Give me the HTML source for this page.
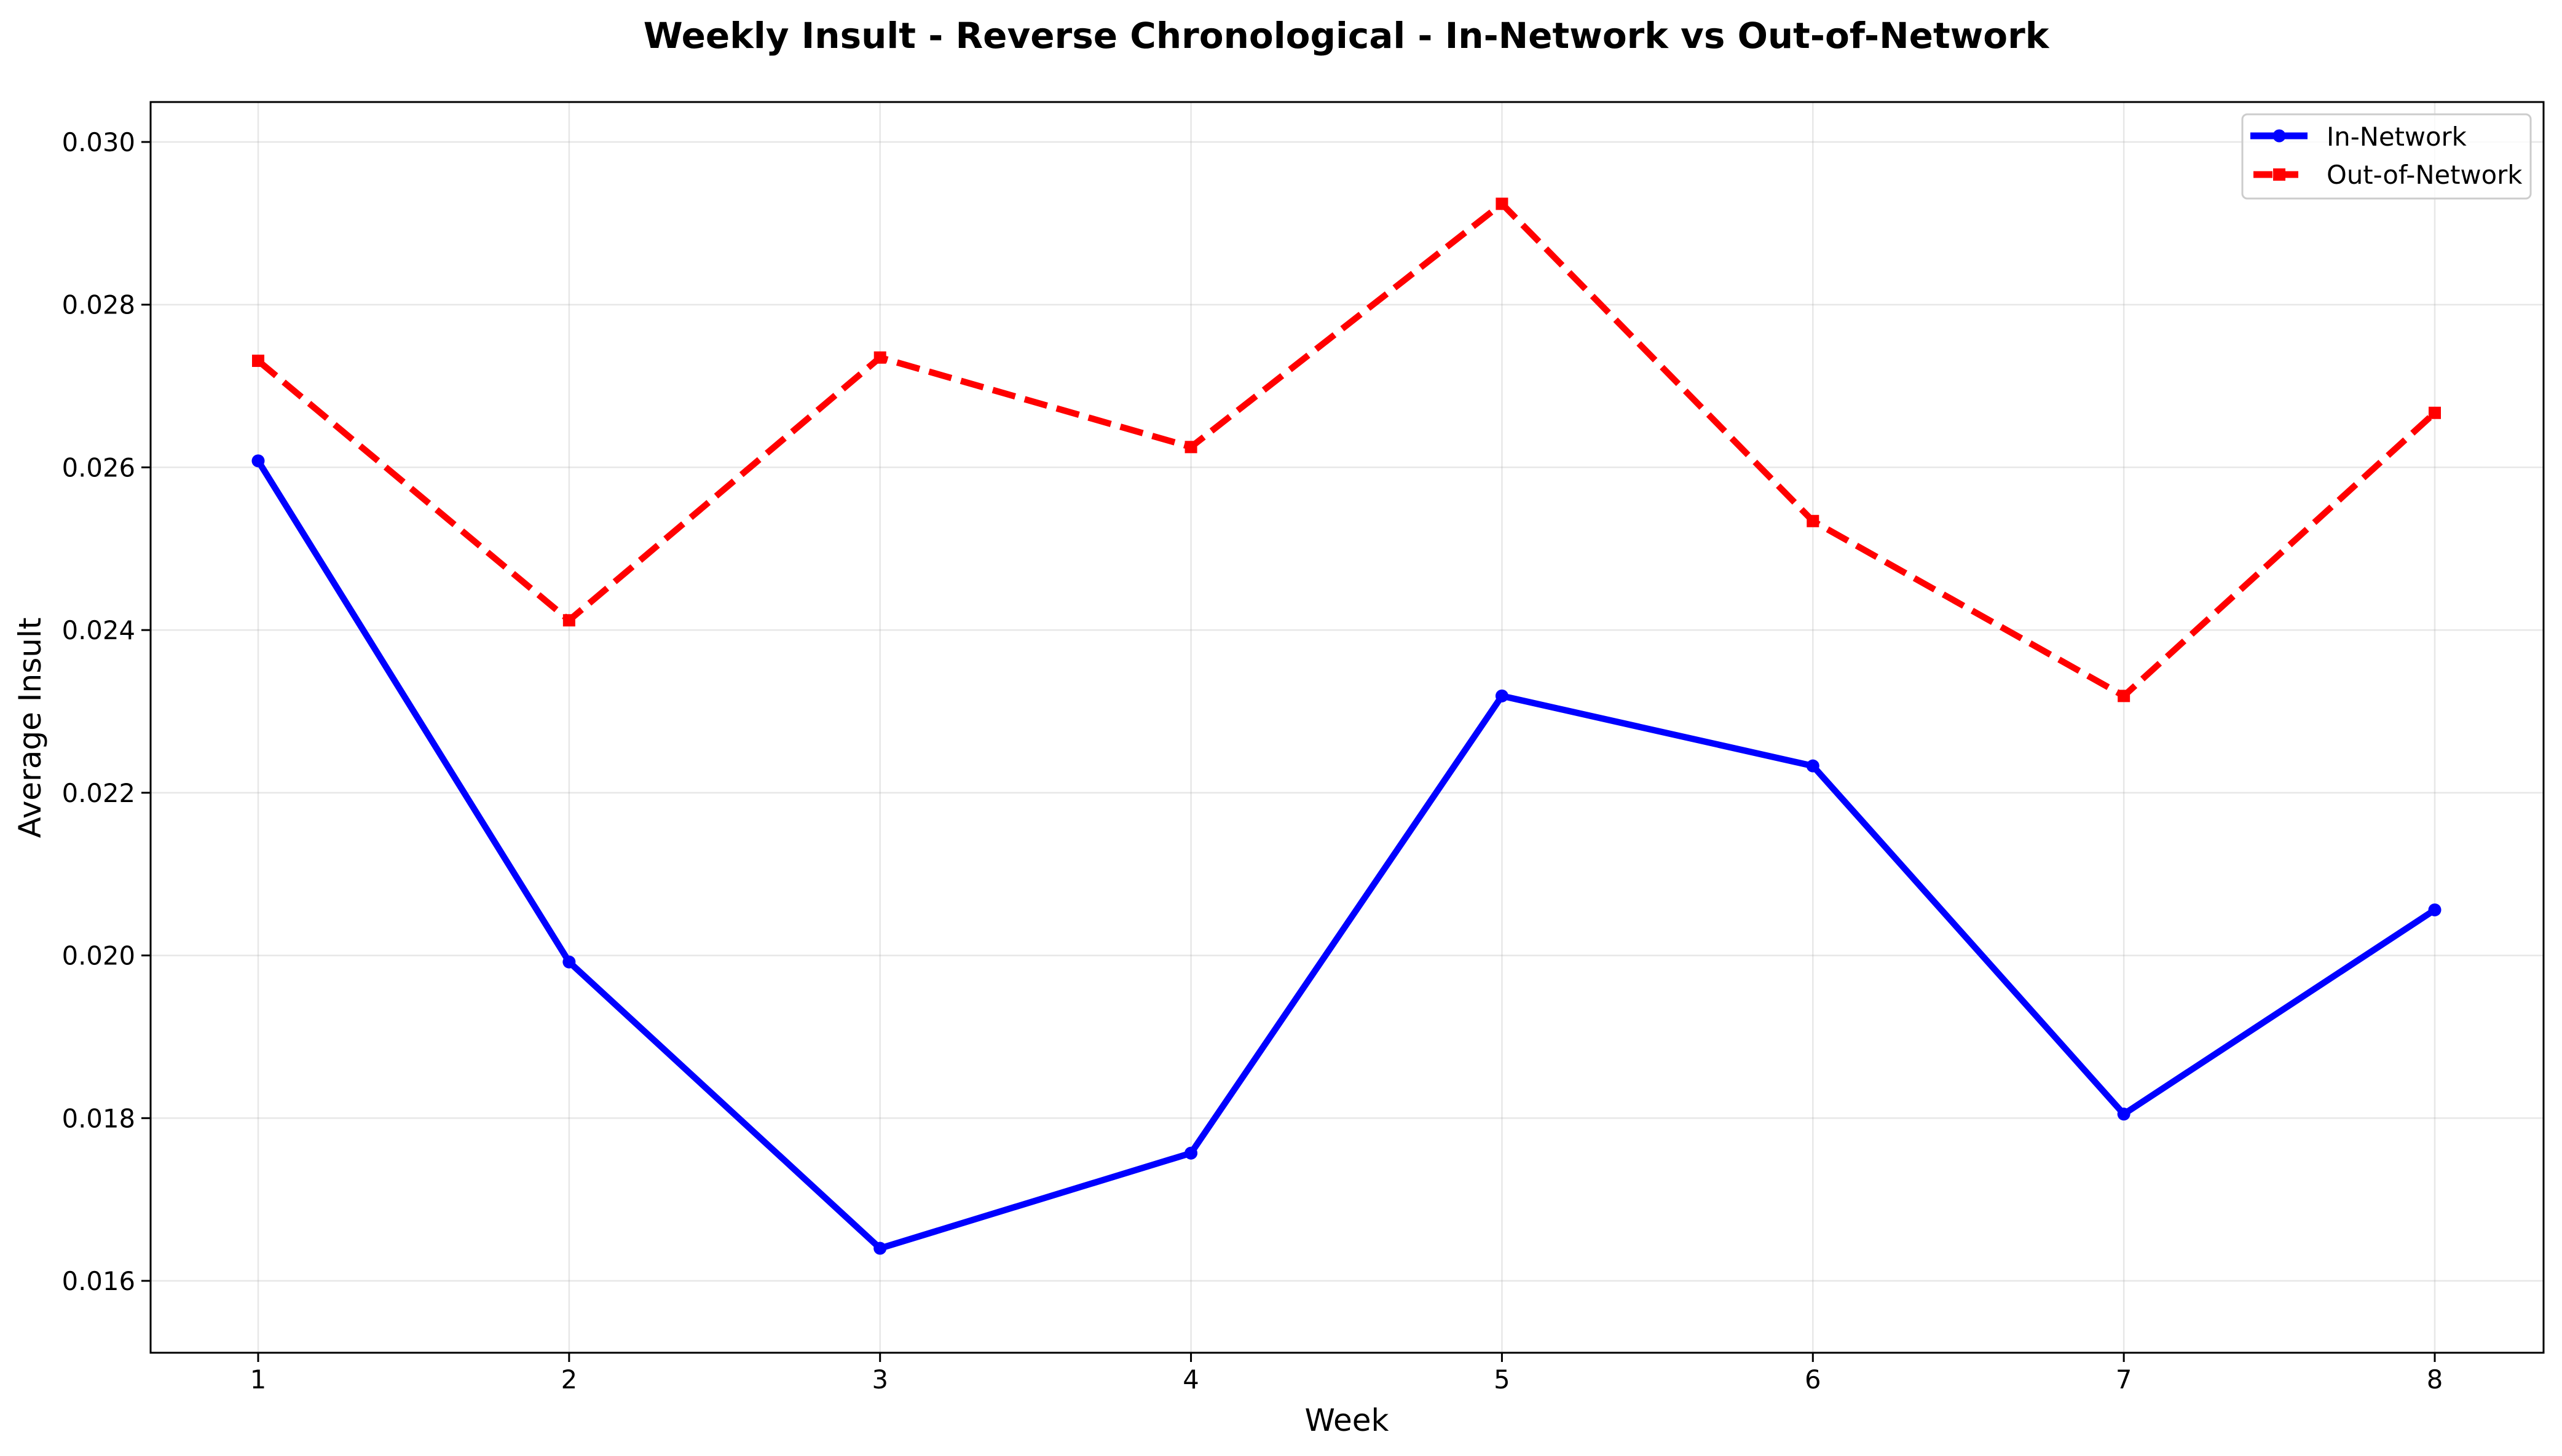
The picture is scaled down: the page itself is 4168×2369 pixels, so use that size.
<!DOCTYPE html>
<html><head><meta charset="utf-8"><style>html,body{margin:0;padding:0;background:#fff}svg{display:block}text{font-family:"DejaVu Sans","Liberation Sans",sans-serif}</style></head>
<body>
<svg id="chart" width="4168" height="2369" xmlns="http://www.w3.org/2000/svg">
<rect width="4168" height="2369" fill="#fff"/>
<text x="2190" y="78" font-size="58" font-weight="bold" text-anchor="middle">Weekly Insult - Reverse Chronological - In-Network vs Out-of-Network</text>
<g id="grid"></g><g id="ticks"></g><g id="series"></g>
<rect x="245" y="166" width="3893" height="2035" fill="none" stroke="#000" stroke-width="3"/>
<text x="2191" y="2328" font-size="50" text-anchor="middle">Week</text>
<text transform="translate(66,1184) rotate(-90)" font-size="50" text-anchor="middle">Average Insult</text>
<g>
<rect x="3648" y="186" width="469" height="137" rx="8" fill="#fff" fill-opacity="0.8" stroke="#ccc" stroke-width="3"/>
<g>
<line x1="3661" y1="221" x2="3754" y2="221" stroke="#0000ff" stroke-width="11"/>
<circle cx="3708" cy="221" r="10.5" fill="#0000ff"/>
<text x="3785" y="237" font-size="41.7">In-Network</text></g>
<g>
<line x1="3666" y1="284" x2="3749" y2="284" stroke="#ff0000" stroke-width="11" stroke-dasharray="31,11"/>
<rect x="3698" y="274" width="20" height="20" fill="#ff0000"/>
<text x="3785" y="299" font-size="41.7">Out-of-Network</text></g>
</g>
</svg>
<script>
const weeks = [1,2,3,4,5,6,7,8];
const inNetwork = [0.02608,0.01992,0.01640,0.01757,0.02319,0.02233,0.01805,0.02056];
const outNetwork = [0.02731,0.02412,0.02735,0.02625,0.02924,0.02534,0.02319,0.02667];
const yTicks = [0.016,0.018,0.020,0.022,0.024,0.026,0.028,0.030];
const yTickLabels = ["0.016","0.018","0.020","0.022","0.024","0.026","0.028","0.030"];

const NS="http://www.w3.org/2000/svg";
const L=245,R=4138,T=166,B=2201;
const x=w=>420+(w-1)*(3961-420)/7;
const y=v=>2084-(v-0.016)*(2084-231)/0.014;
function mk(tag,attrs,parent){const e=document.createElementNS(NS,tag);for(const k in attrs)e.setAttribute(k,attrs[k]);parent.appendChild(e);return e;}
const grid=document.getElementById('grid'),ticks=document.getElementById('ticks'),series=document.getElementById('series');
weeks.forEach(w=>{
  const g=mk('line',{x1:x(w),x2:x(w),y1:T,y2:B,stroke:'#b0b0b0','stroke-opacity':0.3,'stroke-width':2.5},grid);
  
  
  const t=mk('line',{x1:x(w),x2:x(w),y1:B,y2:B+15,stroke:'#000','stroke-width':3},ticks);
  
  
  const l=mk('text',{x:x(w),y:B+58,'font-size':41.7,'text-anchor':'middle'},ticks);
  l.textContent=w;
  
  
});
yTicks.forEach((v,i)=>{
  const g=mk('line',{x1:L,x2:R,y1:y(v),y2:y(v),stroke:'#b0b0b0','stroke-opacity':0.3,'stroke-width':2.5},grid);
  
  
  const t=mk('line',{x1:L-15,x2:L,y1:y(v),y2:y(v),stroke:'#000','stroke-width':3},ticks);
  
  
  const l=mk('text',{x:L-25,y:y(v)+15,'font-size':41.7,'text-anchor':'end'},ticks);
  l.textContent=yTickLabels[i];
  
  
});
function draw(vals,color,dash,name,square){
  const p=mk('polyline',{points:vals.map((v,i)=>x(weeks[i])+','+y(v)).join(' '),fill:'none',stroke:color,'stroke-width':10.4,'stroke-linejoin':'round','stroke-dasharray':dash},series);
  
  
  vals.forEach((v,i)=>{
    const m=square?mk('rect',{x:x(weeks[i])-10,y:y(v)-10,width:20,height:20,fill:color},series):mk('circle',{cx:x(weeks[i]),cy:y(v),r:10.5,fill:color},series);
    
    
  });
}
draw(outNetwork,'#ff0000','38,16','out-of-network',true);
draw(inNetwork,'#0000ff','none','in-network',false);
</script>
</body></html>
